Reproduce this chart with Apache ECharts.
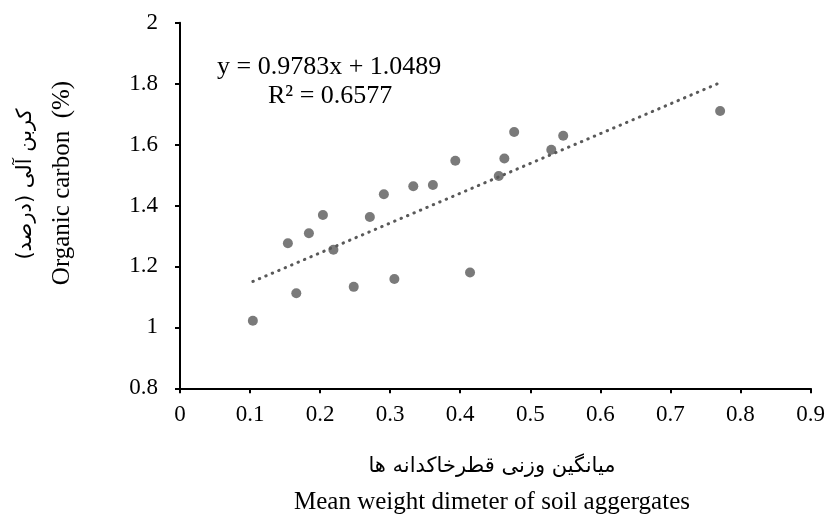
<!DOCTYPE html>
<html><head><meta charset="utf-8">
<script src="https://cdn.jsdelivr.net/npm/echarts@6/dist/echarts.min.js"></script>
<style>html,body{margin:0;padding:0;background:#fff}#c{width:828px;height:516px}</style>
</head><body><div id="c"></div>
<script>
const mwd = [0.104,0.166,0.154,0.184,0.204,0.219,0.248,0.271,0.291,0.306,0.333,0.361,0.393,0.414,0.455,0.463,0.477,0.530,0.547,0.771];
const oc  = [1.022,1.112,1.276,1.309,1.369,1.255,1.133,1.362,1.437,1.159,1.463,1.467,1.547,1.180,1.497,1.554,1.641,1.583,1.629,1.710];
const slope = 0.9783, intercept = 1.0489;
const eqText = ['y = 0.9783x + 1.0489', 'R² = 0.6577'];
const yTitle = ['کربن آلی (درصد)', 'Organic carbon  (%)'];
const xTitle = ['میانگین وزنی قطرخاکدانه ها', 'Mean weight dimeter of soil aggergates'];

const pts = mwd.map((x, i) => [x, oc[i]]);
const xmin = Math.min(...mwd), xmax = Math.max(...mwd);
const trend = [[xmin, slope * xmin + intercept], [xmax, slope * xmax + intercept]];
const font = '"Liberation Serif", "Times New Roman", serif';
const arFont = '"DejaVu Sans", sans-serif';
const col = '#595959';

const chart = echarts.init(document.getElementById('c'));
chart.setOption({
  animation: false,
  grid: {left: 180, right: 17.5, top: 22.7, bottom: 127.7, containLabel: false},
  xAxis: {
    type: 'value', min: 0, max: 0.9, interval: 0.1,
    axisLine: {show: true, lineStyle: {color: '#000', width: 2}},
    axisTick: {show: true, length: 5, inside: false, lineStyle: {color: '#000', width: 2}},
    axisLabel: {fontFamily: font, fontSize: 23, color: '#000', margin: 15},
    splitLine: {show: false}
  },
  yAxis: {
    type: 'value', min: 0.8, max: 2, interval: 0.2,
    axisLine: {show: true, lineStyle: {color: '#000', width: 2}},
    axisTick: {show: true, length: 5, lineStyle: {color: '#000', width: 2}},
    axisLabel: {fontFamily: font, fontSize: 23, color: '#000', margin: 22,
      formatter: v => String(Math.round(v * 10) / 10)},
    splitLine: {show: false}
  },
  series: [
    {type: 'line', data: trend, showSymbol: false, symbol: 'none', z: 1,
     lineStyle: {color: col, width: 3, type: [0.5, 6.5], cap: 'round'}},
    {type: 'scatter', data: pts, symbol: 'circle', symbolSize: 10, z: 2,
     itemStyle: {color: col}}
  ],
  graphic: [
    {type: 'text', x: 217, y: 67, style: {text: eqText[0], font: '26px ' + font, fill: '#000', verticalAlign: 'middle'}},
    {type: 'text', x: 268, y: 96, style: {text: eqText[1], font: '26px ' + font, fill: '#000', verticalAlign: 'middle'}},
    {type: 'text', x: 26, y: 184, rotation: Math.PI / 2,
     style: {text: yTitle[0], font: '21px ' + arFont, fill: '#000', align: 'center', verticalAlign: 'middle'}},
    {type: 'text', x: 62, y: 183, rotation: Math.PI / 2,
     style: {text: yTitle[1], font: '25px ' + font, fill: '#000', align: 'center', verticalAlign: 'middle'}},
    {type: 'text', x: 492, y: 467,
     style: {text: xTitle[0], font: '21px ' + arFont, fill: '#000', align: 'center', verticalAlign: 'middle'}},
    {type: 'text', x: 492, y: 502,
     style: {text: xTitle[1], font: '25px ' + font, fill: '#000', align: 'center', verticalAlign: 'middle'}}
  ]
});
</script></body></html>
